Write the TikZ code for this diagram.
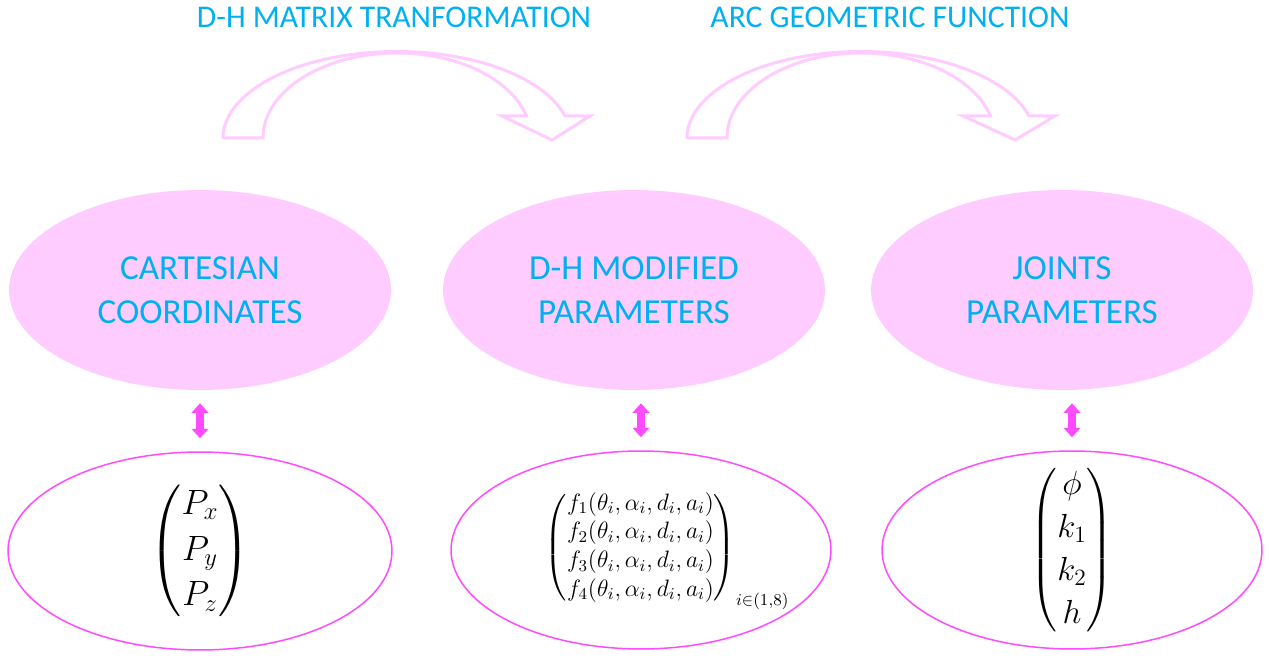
\RequirePackage{fix-cm}
\documentclass[tikz,border=0pt]{standalone}
\usepackage{amsmath}
\usepackage{mathtools}
\usepackage{fontspec}
\newfontfamily\labelfont{Carlito}
\usepackage{xcolor}
\definecolor{dhCyan}{HTML}{00B0F0}
\definecolor{dhPink}{HTML}{FFCCFF}
\definecolor{dhMagenta}{HTML}{FF4AFF}
\usepackage{tikz}
\usetikzlibrary{shapes.geometric, arrows.meta}

\begin{document}
\begin{tikzpicture}[
    x=0.02cm, y=0.02cm,
    % filled ellipses, top row
    concept/.style={
        ellipse, fill=dhPink, draw=none, inner sep=0pt,
        minimum width=7.64cm, minimum height=4cm,
        align=center, text=dhCyan,
        font=\labelfont\fontsize{20}{25}\selectfont
    },
    % outlined ellipses, bottom row
    vector/.style={
        ellipse, draw=dhMagenta, fill=white, line width=0.85pt,
        inner xsep=0pt, inner ysep=-0.6cm,
        minimum width=7.6cm, minimum height=3.96cm,
        font=\fontsize{19}{24.5}\selectfont
    },
    title/.style={text=dhCyan, font=\labelfont\fontsize{18}{22}\selectfont},
    bendarrow/.style={draw=dhPink, fill=white, line width=0.06cm, line join=miter},
    link/.style={
        {Triangle[width=0.33cm,length=0.19cm]}-{Triangle[width=0.33cm,length=0.19cm]},
        draw=dhMagenta, line width=0.16cm,
        shorten <=0.26cm, shorten >=0.26cm
    },
]
\useasboundingbox (0,0) rectangle (1269,-658);

%% =================================================================
%% Titles and curved block arrows (top)
%% =================================================================
\node[title] (t1) at (394,-17) {D-H MATRIX TRANFORMATION};
\node[title] (t2) at (890,-17) {ARC GEOMETRIC FUNCTION};

\draw[bendarrow] (223,-138) -- (263,-138)
    arc[start angle=180, end angle=15, x radius=134, y radius=85]
    -- (502,-116) -- (552,-140) -- (590,-116) -- (565,-116)
    arc[start angle=15, end angle=180, x radius=174, y radius=87] -- cycle;

\draw[bendarrow] (687,-138) -- (727,-138)
    arc[start angle=180, end angle=15, x radius=134, y radius=85]
    -- (963,-116) -- (1015,-140) -- (1055,-116) -- (1029,-116)
    arc[start angle=15, end angle=180, x radius=174, y radius=87] -- cycle;

%% =================================================================
%% Parameter spaces (middle row)
%% =================================================================
\node[concept] (cart)  at (200,-290)  {CARTESIAN\\COORDINATES};
\node[concept] (dh)    at (634,-290)  {D-H MODIFIED\\PARAMETERS};
\node[concept] (joint) at (1062,-290) {JOINTS\\PARAMETERS};

%% =================================================================
%% Vectors (bottom row)
%% =================================================================
\node[vector, minimum width=7.68cm, font=\fontsize{20}{26}\selectfont] (cartv) at (200,-551)
    {$\begin{pmatrix} P_x\\ P_y\\ P_z \end{pmatrix}$};
\node[vector, font=\fontsize{13.5}{16.3}\selectfont] (dhv) at (641,-550)
    {$\begin{pmatrix}
        f_1(\theta_i,\alpha_i,d_i,a_i)\\
        f_2(\theta_i,\alpha_i,d_i,a_i)\\
        f_3(\theta_i,\alpha_i,d_i,a_i)\\
        f_4(\theta_i,\alpha_i,d_i,a_i)
      \end{pmatrix}_{\mathrlap{i\in(1,8)}}$};
\node[vector] (jointv) at (1072,-550)
    {$\begin{pmatrix} \phi\\ k_1\\ k_2\\ h \end{pmatrix}$};

% two-way links
\draw[link] (cartv.north |- cart.south) -- (cartv.north);
\draw[link] (dhv.north |- dh.south) -- (dhv.north);
\draw[link] (jointv.north |- joint.south) -- (jointv.north);

\end{tikzpicture}
\end{document}
